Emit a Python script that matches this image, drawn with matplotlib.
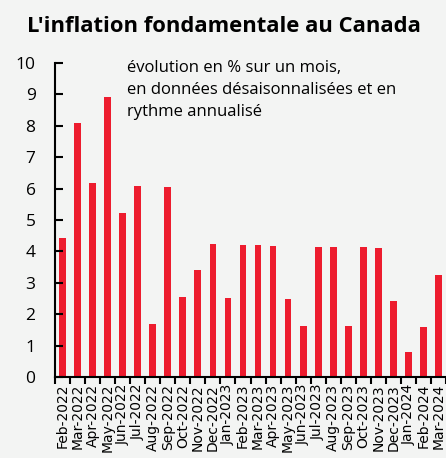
import matplotlib.pyplot as plt
import numpy as np

months = ['Feb-2022', 'Mar-2022', 'Apr-2022', 'May-2022', 'Jun-2022', 'Jul-2022',
          'Aug-2022', 'Sep-2022', 'Oct-2022', 'Nov-2022', 'Dec-2022', 'Jan-2023',
          'Feb-2023', 'Mar-2023', 'Apr-2023', 'May-2023', 'Jun-2023', 'Jul-2023',
          'Aug-2023', 'Sep-2023', 'Oct-2023', 'Nov-2023', 'Dec-2023', 'Jan-2024',
          'Feb-2024', 'Mar-2024']
values = [4.44, 8.08, 6.19, 8.91, 5.21, 6.08, 1.69, 6.04, 2.55, 3.41, 4.25, 2.51,
          4.21, 4.20, 4.18, 2.47, 1.63, 4.15, 4.14, 1.62, 4.13, 4.10, 2.43, 0.80,
          1.60, 3.25]

bg = '#f3f4f3'
red = '#ed1c2e'

fig = plt.figure(figsize=(4.46, 4.58), dpi=100, facecolor=bg)
ax = fig.add_axes([55/446, 1 - 377/458, 1 - 55/446, (377 - 63)/458])
ax.set_facecolor(bg)

x = np.arange(len(months))
ax.bar(x, values, width=0.45, color=red)

ax.set_xlim(-0.5, len(months) - 0.5)
ax.set_ylim(0, 10)
ax.set_yticks(range(0, 11))
ax.set_yticklabels([str(v) for v in range(0, 11)], fontsize=12.5, family='Open Sans')
ax.tick_params(axis='y', direction='in', length=6, width=1.5, pad=14, left=True)

ax.set_xticks(x)
ax.set_xticklabels(months, rotation=90, fontsize=10)
ax.tick_params(axis='x', length=0, pad=5)
ax.set_xticks(np.arange(-0.5, len(months)), minor=True)
ax.tick_params(axis='x', which='minor', direction='out', length=5, width=1.5)

for s in ['top', 'right']:
    ax.spines[s].set_visible(False)
ax.spines['left'].set_linewidth(1.5)
ax.spines['bottom'].set_linewidth(1.5)

fig.text(127/446, 1 - 60/458,
         "évolution en % sur un mois,\nen données désaisonnalisées et en\nrythme annualisé",
         fontsize=12, family='Open Sans', va='top', linespacing=1.48)

fig.text(224/446, 1 - 27/458, "L'inflation fondamentale au Canada",
         fontsize=15.8, fontweight='bold', family='Open Sans', ha='center', va='center')

fig.savefig('out.png', dpi=100, facecolor=bg)
